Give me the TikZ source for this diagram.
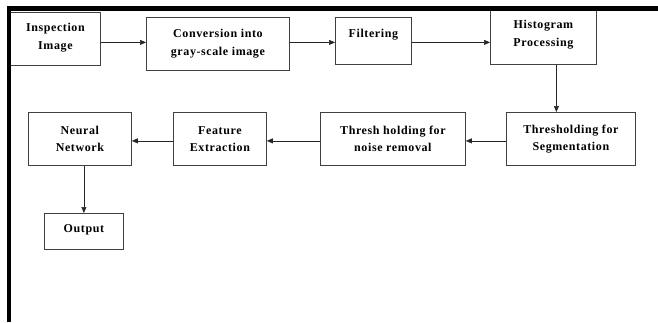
\documentclass[tikz,border=0pt]{standalone}
\usepackage{fontspec}
\setmainfont[LetterSpace=5]{Liberation Serif}
\usepackage{tikz}
\usetikzlibrary{positioning,arrows.meta}

\begin{document}
\begin{tikzpicture}[
  x=1pt, y=-1pt,
  font=\fontsize{12}{17.5}\selectfont\bfseries,
  stage/.style={
    rectangle, draw=black!75, line width=0.8pt, fill=white,
    align=center, inner sep=0pt, anchor=north west
  },
  arr/.style={-{Triangle[length=6pt,width=5pt]}, line width=0.6pt, black!85},
  frame/.style={line width=4.5pt, black}
]
\useasboundingbox (0,0) rectangle (658,322);

% --- top row ---
\node[stage, minimum width=90pt, minimum height=53pt, text depth=5pt] (insp) at (10,12)
  {Inspection\\Image};
\node[stage, minimum width=143pt, minimum height=53pt] (conv) at (146,17)
  {Conversion into\\gray-scale image};
\node[stage, minimum width=76pt, minimum height=47pt, text depth=16pt] (filt) at (335,17)
  {Filtering};
\node[stage, minimum width=106pt, minimum height=54pt, text depth=8pt] (hist) at (490,10)
  {Histogram\\Processing};

% --- second row ---
\node[stage, minimum width=129pt, minimum height=53pt] (seg) at (506,112)
  {Thresholding for\\Segmentation};
\node[stage, minimum width=145pt, minimum height=53pt] (noise) at (320,112)
  {Thresh holding for\\noise removal};
\node[stage, minimum width=93pt, minimum height=53pt] (feat) at (173,112)
  {Feature\\Extraction};
\node[stage, minimum width=103pt, minimum height=53pt] (nn) at (28,112)
  {Neural\\Network};

% --- output ---
\node[stage, minimum width=79pt, minimum height=36pt, text depth=5pt] (out) at (44,213)
  {Output};

% --- page frame ---
\draw[frame] (9,322) -- (9,8.5) -- (658,8.5);

% --- arrows ---
\foreach \from/\to in {insp/conv, conv/filt, filt/hist}
  \draw[arr] ([yshift=-1.5pt]\from.east |- filt.center) -- ([yshift=-1.5pt]\to.west |- filt.center);
\draw[arr] ([xshift=13pt]hist.south) -- ([xshift=13pt]hist.south |- seg.north);
\foreach \from/\to in {seg/noise, noise/feat, feat/nn}
  \draw[arr] ([yshift=-2pt]\from.west) -- ([yshift=-2pt]\to.east);
\draw[arr] (nn.south -| out.center) -- (out.north);

\end{tikzpicture}
\end{document}
